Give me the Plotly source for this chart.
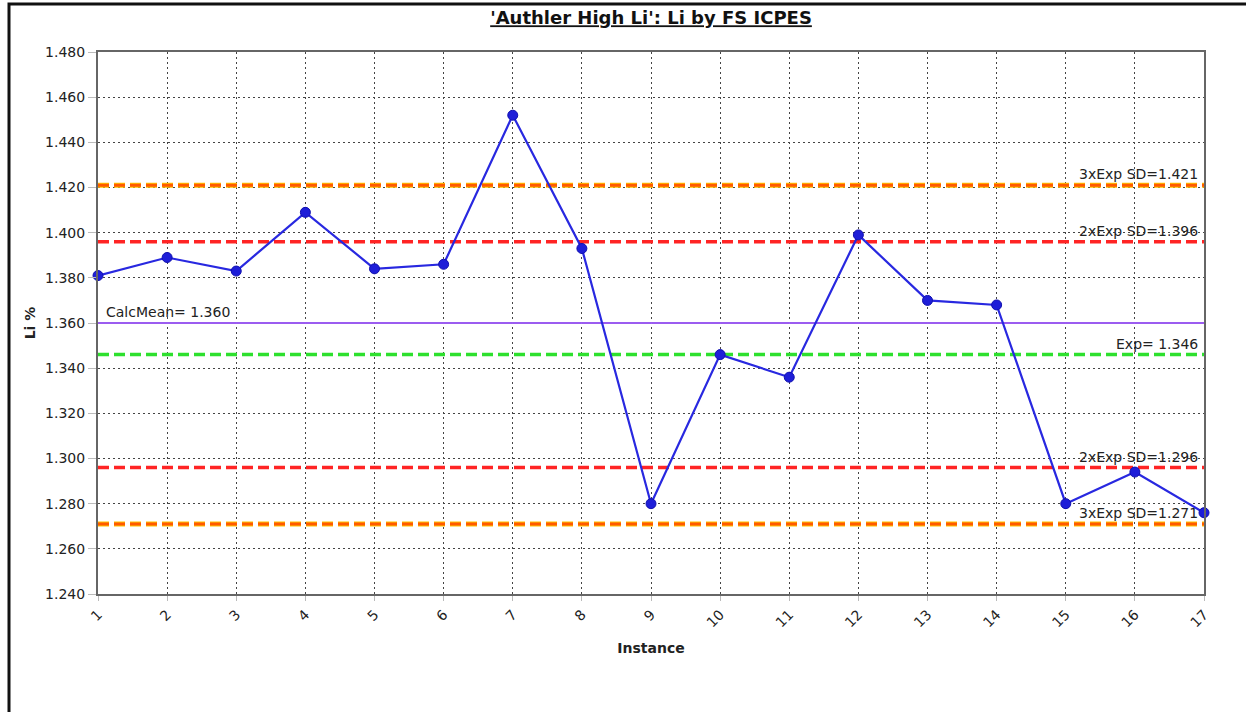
import plotly.graph_objects as go

instances = list(range(1, 18))
li_values = [1.381, 1.389, 1.383, 1.409, 1.384, 1.386, 1.452, 1.393, 1.280,
             1.346, 1.336, 1.399, 1.370, 1.368, 1.280, 1.294, 1.276]

ref_names = ["3xExp SD", "2xExp SD", "CalcMean", "Exp", "2xExp SD", "3xExp SD"]
ref_values = [1.421, 1.396, 1.360, 1.346, 1.296, 1.271]
ref_kinds = ["sd3", "sd2", "mean", "exp", "sd2", "sd3"]
ref_labels = ["3xExp SD=1.421", "2xExp SD=1.396", "CalcMean= 1.360", "Exp= 1.346",
              "2xExp SD=1.296", "3xExp SD=1.271"]

y_ticks = [1.24 + 0.02 * i for i in range(13)]
y_ticktext = ["%.3f" % v for v in y_ticks]
x_ticktext = [str(i) for i in instances]

FONT = "DejaVu Sans"

fig = go.Figure()

styles = {
    "sd3": [dict(color="#FFC400", width=5, dash="11px,5px"), dict(color="#FF5A00", width=3, dash="11px,5px")],
    "sd2": [dict(color="#FF2424", width=3.5, dash="11px,5px")],
    "mean": [dict(color="#9B5CF0", width=2)],
    "exp": [dict(color="#2EE02E", width=3.5, dash="11px,5px")],
}
annotations = []
x_span = [instances[0], instances[-1]]
for name, val, kind, lab in zip(ref_names, ref_values, ref_kinds, ref_labels):
    for st in styles[kind]:
        fig.add_trace(go.Scatter(x=x_span, y=[val, val], mode="lines", line=st,
                                 showlegend=False, hoverinfo="skip", name=name))
    if kind == "mean":
        annotations.append(dict(x=0.005, xref="x domain", y=val, yref="y", text=lab, showarrow=False,
                                xanchor="left", yanchor="bottom", yshift=1,
                                font=dict(family=FONT, size=14, color="#222")))
    else:
        annotations.append(dict(x=0.996, xref="x domain", y=val, yref="y", text=lab, showarrow=False,
                                xanchor="right", yanchor="bottom", yshift=1,
                                font=dict(family=FONT, size=14, color="#222")))

fig.add_trace(go.Scatter(
    x=instances, y=li_values, mode="lines+markers",
    line=dict(color="#2828E0", width=2.2),
    marker=dict(color="#1E1ED8", size=10, line=dict(color="#1010B0", width=1)),
    showlegend=False, cliponaxis=False, name="Li %",
))

# outer frame
pw, ph = 1106.0, 542.0
shapes = [dict(type="rect", xref="paper", yref="paper",
               x0=(9 - 98) / pw, x1=(1260 - 98) / pw,
               y0=-(730 - 594) / ph, y1=1 + (52 - 4) / ph,
               line=dict(color="#111", width=3), fillcolor="rgba(0,0,0,0)", layer="above")]

fig.update_layout(
    width=1246, height=712,
    margin=dict(l=98, r=42, t=52, b=118),
    paper_bgcolor="white", plot_bgcolor="white",
    title=dict(text="<u><b>'Authler High Li': Li by FS ICPES</b></u>", x=0.5225, xanchor="center",
               y=1 - 18 / 712, yanchor="middle", font=dict(family=FONT, size=18, color="#111")),
    shapes=shapes, annotations=annotations,
    font=dict(family=FONT, color="#222"),
)
fig.update_xaxes(
    range=[1, 17], tickmode="array", tickvals=instances, ticktext=x_ticktext,
    tickangle=-45, tickfont=dict(family=FONT, size=14, color="#222"),
    showgrid=True, gridcolor="#444", gridwidth=1, griddash="2px,3px",
    showline=True, linecolor="#666", linewidth=2, mirror=True,
    ticks="outside", ticklen=5, tickcolor="#bbb", zeroline=False,
    title=dict(text="<b>Instance</b>", font=dict(family=FONT, size=14, color="#222"), standoff=14),
)
fig.update_yaxes(
    range=[1.24, 1.48], tickmode="array", tickvals=y_ticks, ticktext=y_ticktext,
    tickfont=dict(family=FONT, size=14, color="#222"),
    showgrid=True, gridcolor="#444", gridwidth=1, griddash="2px,3px",
    showline=True, linecolor="#666", linewidth=2, mirror=True,
    ticks="outside", ticklen=8, tickcolor="#bbb", zeroline=False,
    title=dict(text="<b>Li %</b>", font=dict(family=FONT, size=14, color="#222"), standoff=6),
)

fig.write_html("out.html")
